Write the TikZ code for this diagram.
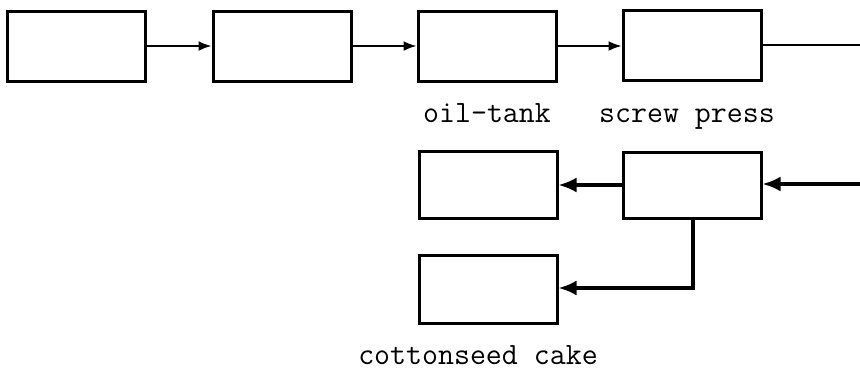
\documentclass[tikz,border=0pt]{standalone}
\usetikzlibrary{arrows.meta}
\begin{document}
\begin{tikzpicture}[x=1pt,y=-1pt,
  boxnode/.style={draw,line width=3pt,inner sep=0pt,minimum width=138pt,minimum height=70pt},
  thinflow/.style={line width=1.8pt,-{Latex[length=13pt,width=10pt]}},
  thickflow/.style={line width=3.4pt,-{Latex[length=18pt,width=15pt]}},
  lbl/.style={font=\fontsize{31}{36}\selectfont\ttfamily,inner sep=0pt,anchor=base}]
\useasboundingbox (0,0) rectangle (860,370);
\node[boxnode] (b1) at (76,46) {};
\node[boxnode] (b2) at (282,46) {};
\node[boxnode] (b3) at (487,46) {};
\node[boxnode] (b4) at (692,45) {};
\node[boxnode,minimum height=67pt] (b5) at (488,185) {};
\node[boxnode,minimum height=66pt] (b6) at (692,185) {};
\node[boxnode,minimum height=68pt] (b7) at (488,289) {};
\coordinate (out) at (860,46);
\coordinate (in) at (860,184);
\coordinate (bend) at (693,288);
\draw[thinflow] (b1.east) -- (b2.west);
\draw[thinflow] (b2.east) -- (b3.west);
\draw[thinflow] (b3.east) -- (b3.east -| b4.west);
\draw[line width=1.8pt] (b4.east) -- (b4.east -| out);
\draw[thickflow] (in) -- (in -| b6.east);
\draw[thickflow] (b6.west) -- (b6.west -| b5.east);
\draw[thickflow] (b6.south -| bend) -- (bend) -- (bend -| b7.east);
\node[lbl] (t1) at (487,122) {oil-tank};
\node[lbl] (t2) at (687,122) {screw press};
\node[lbl] (t3) at (478,364) {cottonseed cake};
\end{tikzpicture}
\end{document}
